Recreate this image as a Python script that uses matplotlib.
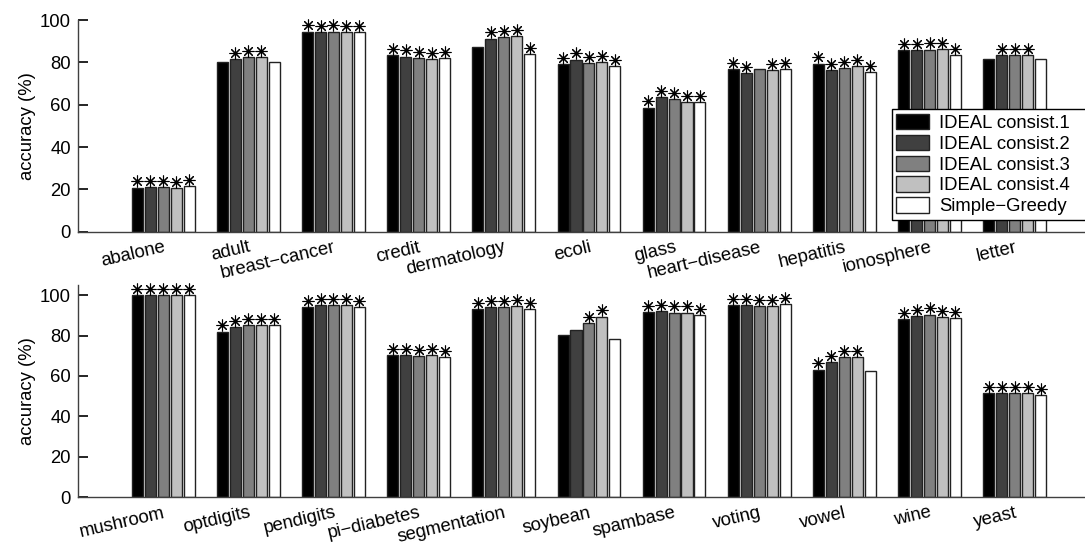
import matplotlib
matplotlib.use('Agg')
import matplotlib.pyplot as plt
import numpy as np
from matplotlib.transforms import offset_copy

plt.rcParams['font.family'] = ['Liberation Sans', 'DejaVu Sans']

series_names = ['IDEAL consist.1', 'IDEAL consist.2', 'IDEAL consist.3',
                'IDEAL consist.4', 'Simple\u2212Greedy']
bar_colors = ['#000000', '#404040', '#808080', '#c0c0c0', '#ffffff']

# first panel
top_names = ['abalone', 'adult', 'breast\u2212cancer', 'credit', 'dermatology',
             'ecoli', 'glass', 'heart\u2212disease', 'hepatitis', 'ionosphere', 'letter']
top_c1 = [20.8, 80.3, 94.6, 83.5, 87.4, 79.2, 58.7, 76.7, 79.4, 86.0, 81.6]
top_c2 = [21.1, 81.6, 94.3, 82.7, 91.3, 81.3, 63.5, 75.1, 76.5, 85.8, 83.3]
top_c3 = [21.0, 82.4, 94.6, 82.2, 92.0, 79.8, 62.5, 77.0, 77.2, 86.1, 83.3]
top_c4 = [20.5, 82.4, 94.3, 81.7, 92.3, 80.0, 61.3, 76.2, 78.3, 86.3, 83.6]
top_sg = [21.7, 80.2, 94.3, 82.0, 83.8, 78.3, 61.3, 77.0, 75.6, 83.5, 81.6]
# '1' = significant (star drawn), one char per series
top_sig = ['11111', '01110', '11111', '11111', '01111', '11111',
           '11111', '11011', '11111', '11111', '01110']

# second panel
bot_names = ['mushroom', 'optdigits', 'pendigits', 'pi\u2212diabetes', 'segmentation',
             'soybean', 'spambase', 'voting', 'vowel', 'wine', 'yeast']
bot_c1 = [100.0, 82.0, 94.2, 70.2, 92.9, 80.2, 91.6, 95.2, 63.1, 88.3, 51.6]
bot_c2 = [100.0, 84.0, 95.1, 70.2, 94.1, 82.5, 91.9, 94.9, 66.9, 89.6, 51.6]
bot_c3 = [100.0, 85.0, 95.1, 69.7, 93.9, 86.2, 91.4, 94.7, 69.2, 90.4, 51.7]
bot_c4 = [100.0, 85.0, 95.1, 70.2, 94.4, 89.3, 91.3, 94.7, 69.2, 89.0, 51.4]
bot_sg = [100.0, 85.0, 94.2, 69.4, 93.1, 78.1, 90.1, 95.4, 62.6, 88.6, 50.7]
bot_sig = ['11111', '11111', '11111', '11111', '11111', '00110',
           '11111', '11111', '11110', '11111', '11111']

fig = plt.figure(figsize=(10.85, 5.44), dpi=100)
ax_top = fig.add_axes([0.0719, 0.574, 0.93, 0.389])
ax_bot = fig.add_axes([0.0719, 0.0858, 0.93, 0.3903])

pitch = 0.152
width = 0.13
asterisk = (8, 2, 0)
fs = 13.3


def draw_panel(ax, names, series, sig, ymax):
    x = np.arange(1, len(names) + 1)
    star_trans = offset_copy(ax.transData, fig=fig, y=4.5, units='points')
    handles = []
    for i, (vals, col) in enumerate(zip(series, bar_colors)):
        xs = x + (i - 2) * pitch
        h = ax.bar(xs, vals, width=width, color=col, edgecolor='#222222',
                   linewidth=1.0, label=series_names[i], zorder=2)
        handles.append(h)
        for xx, v, s in zip(xs, vals, sig):
            if s[i] == '1':
                ax.plot(xx, v, marker=asterisk, markersize=8.5, color='black',
                        markeredgewidth=0.8, transform=star_trans,
                        clip_on=False, zorder=3)
    ax.set_xlim(0, 11.85)
    ax.set_ylim(0, ymax)
    ax.set_yticks([0, 20, 40, 60, 80, 100])
    ax.set_xticks(x)
    ax.set_xticklabels(names, rotation=13, ha='right', rotation_mode='anchor')
    ax.tick_params(axis='x', length=0, pad=5, labelsize=fs)
    ax.tick_params(axis='y', direction='in', length=7, width=1.2,
                   color='black', pad=5, labelsize=fs)
    ax.set_ylabel('accuracy (%)', fontsize=fs, labelpad=3)
    for side in ['top', 'right']:
        ax.spines[side].set_visible(False)
    for side in ['left', 'bottom']:
        ax.spines[side].set_color('#404040')
        ax.spines[side].set_linewidth(1.0)
    return handles


handles = draw_panel(ax_top, top_names, [top_c1, top_c2, top_c3, top_c4, top_sg],
                     top_sig, 100)
draw_panel(ax_bot, bot_names, [bot_c1, bot_c2, bot_c3, bot_c4, bot_sg],
           bot_sig, 105)

# legend box runs past the right edge of the figure
leg = fig.legend(handles, series_names, loc='upper left',
                 bbox_to_anchor=(0.822, 0.599, 0.19, 0.2), mode='expand',
                 fontsize=fs, frameon=True,
                 fancybox=False, framealpha=1, edgecolor='black',
                 borderpad=0.25, handlelength=1.75, handleheight=0.9,
                 handletextpad=0.55, labelspacing=0.15, borderaxespad=0)
leg.get_frame().set_linewidth(1.0)

fig.savefig('out.png', dpi=100)
